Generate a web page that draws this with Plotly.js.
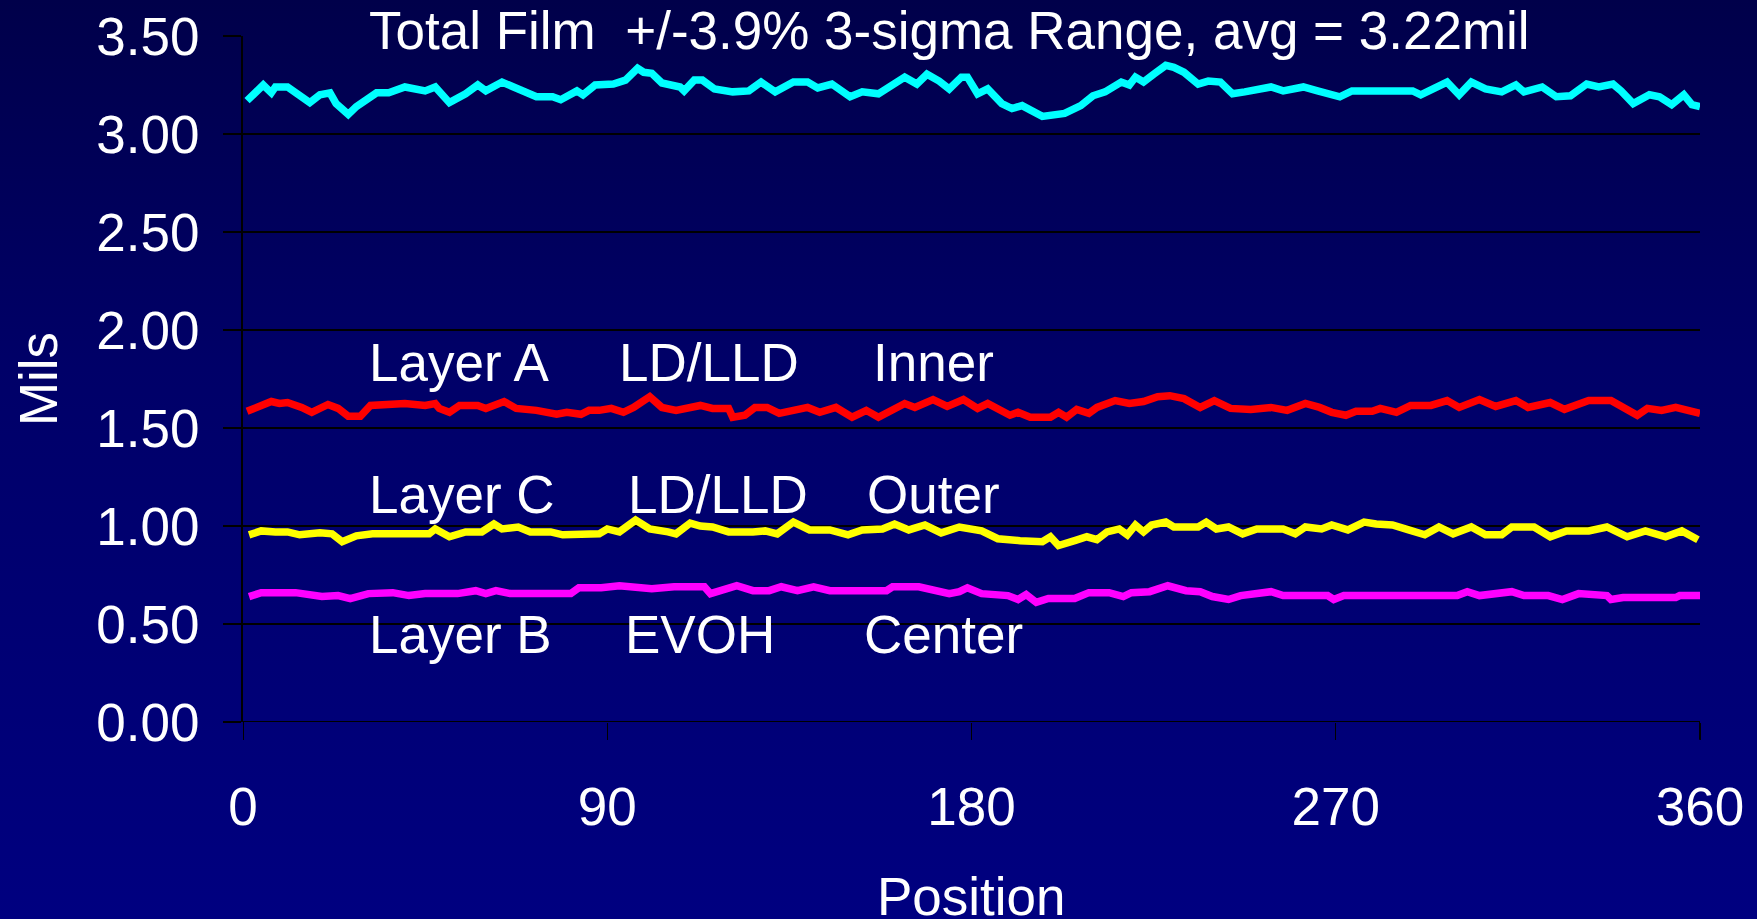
<!DOCTYPE html>
<html>
<head>
<meta charset="utf-8">
<script src="https://cdn.plot.ly/plotly-3.0.1.min.js"></script>
<style>
  html, body { margin: 0; padding: 0; width: 1757px; height: 919px; overflow: hidden;
    background: linear-gradient(to bottom, #00004a 0%, #000068 40%, #000080 100%); }
  #chart { width: 1757px; height: 919px; }
</style>
</head>
<body>
<div id="chart"></div>
<script>
// Total film thickness (mils) vs position (degrees)
const totalX = [1,5,7,8,11,13,16.5,19,21.5,23,26,28,33,36,40,45,47.5,51,55,58,60,64,69,72.5,76.5,78.5,82.5,84,87,91.5,94.5,97.5,99,101,103.5,108,109,111.5,113.5,116.5,121,125,128,131.5,136,139.5,142,145.5,150,153,157,161,163.5,166.5,169,172,174.5,177.5,179,181.5,184,187.5,190,192.5,195,197.5,203,207,210,213,217,219,220.5,222.5,225,228,230,232.5,236,238.5,241.5,244.5,247.5,251.5,254,257,260,262,265.5,269,271,274,289,291,294.5,297.5,300.5,303.5,307,311,314.5,316.5,321,324.5,328,332,335,338.5,340.5,343.5,347.5,350,353,356,358,360];
const totalY = [3.17,3.25,3.21,3.24,3.24,3.21,3.16,3.20,3.21,3.155,3.10,3.14,3.21,3.21,3.24,3.22,3.24,3.16,3.205,3.25,3.22,3.265,3.225,3.19,3.19,3.175,3.22,3.20,3.25,3.255,3.275,3.335,3.315,3.31,3.26,3.24,3.22,3.275,3.275,3.23,3.215,3.22,3.265,3.215,3.265,3.265,3.235,3.255,3.19,3.215,3.205,3.255,3.29,3.255,3.305,3.27,3.23,3.29,3.29,3.205,3.23,3.155,3.13,3.145,3.12,3.09,3.105,3.145,3.195,3.215,3.265,3.25,3.29,3.265,3.305,3.35,3.34,3.315,3.255,3.27,3.265,3.205,3.215,3.23,3.24,3.22,3.23,3.24,3.22,3.205,3.19,3.22,3.22,3.20,3.23,3.265,3.20,3.265,3.23,3.215,3.25,3.215,3.24,3.19,3.195,3.255,3.24,3.255,3.22,3.155,3.20,3.19,3.15,3.20,3.15,3.14];

// Layer A (LD/LLD, inner)
const layerAX = [1,4.5,7,9,11,14.5,17,21,23.5,26,29,31.5,40,45,47.5,48.5,51,53.5,58,60,64.5,67.5,72.5,77.5,80,83.5,85.5,88,91,94,96.5,100.5,103.5,107,109,113,116,120,121,124,126.5,129.5,132.5,135.5,139.5,142.5,146.5,150.5,154,157,161,163.5,166,170.5,174,178,181.5,184,189.5,191.5,194.5,199.5,201.5,203.5,206,209,211,215.5,219,222.5,226,229,232.5,236.5,240,244,249,254,258,262.5,266,269,272.5,275,279,281,285,288.5,293.5,297.5,300.5,305.5,309.5,314.5,317.5,323,326.5,332.5,338,342,344.5,347,350.5,354,357,360];
const layerAY = [1.585,1.615,1.635,1.625,1.63,1.605,1.58,1.62,1.60,1.56,1.56,1.615,1.625,1.615,1.625,1.60,1.58,1.615,1.615,1.60,1.635,1.60,1.59,1.57,1.58,1.57,1.59,1.59,1.60,1.58,1.605,1.66,1.605,1.59,1.60,1.615,1.60,1.60,1.555,1.565,1.605,1.605,1.575,1.59,1.605,1.58,1.605,1.555,1.59,1.555,1.60,1.625,1.605,1.645,1.61,1.645,1.60,1.625,1.565,1.58,1.555,1.555,1.58,1.555,1.595,1.575,1.605,1.64,1.625,1.635,1.66,1.665,1.65,1.605,1.64,1.60,1.595,1.605,1.59,1.625,1.605,1.58,1.565,1.585,1.585,1.60,1.58,1.615,1.615,1.64,1.605,1.645,1.61,1.64,1.605,1.63,1.595,1.64,1.64,1.60,1.565,1.60,1.59,1.605,1.59,1.575];

// Layer C (LD/LLD, outer)
const layerCX = [1.5,4.5,8,11,14,19,22,24.5,28,32,46,47.5,51,55,59,62,64,68,71,76,79,83,88,90,93,97,100.5,105,107,110.5,113,116,120,126,129,132,136,140,145,149.5,153,158,161,164.5,168.5,172.5,177,182.5,186.5,192,197.5,199.5,201.5,205.5,208.5,211,213.5,216.5,218.5,220.5,222.5,224.5,228,230,236,238,240.5,243.5,247,250.5,257,260,262.5,266.5,269,273,277,280,284,288,292,295.5,299,303.5,307,311,313.5,319,323,327,332.5,337,342,346.5,351.5,355.5,359.5];
const layerCY = [0.955,0.975,0.97,0.97,0.955,0.965,0.96,0.92,0.95,0.96,0.96,0.985,0.945,0.97,0.97,1.01,0.985,0.995,0.97,0.97,0.955,0.96,0.96,0.985,0.97,1.03,0.985,0.97,0.96,1.015,1.00,0.995,0.97,0.97,0.975,0.96,1.02,0.98,0.98,0.955,0.98,0.985,1.01,0.98,1.005,0.965,0.995,0.975,0.935,0.925,0.92,0.945,0.90,0.925,0.945,0.93,0.97,0.985,0.955,1.005,0.97,1.005,1.02,0.995,0.995,1.02,0.985,0.995,0.96,0.985,0.985,0.96,0.995,0.985,1.005,0.98,1.02,1.01,1.005,0.98,0.955,0.995,0.96,0.995,0.955,0.955,0.995,0.995,0.945,0.975,0.975,0.995,0.945,0.975,0.945,0.975,0.93];

// Layer B (EVOH, center)
const layerBX = [1.5,4.5,13,17,19.5,23.5,26.5,31,37,41,45,53,57.5,60,62.5,66,81,83,88.5,93,97,101,106.5,114,115.5,119.5,122,126,130,133,137,141,145,159,160.5,167,170.5,174.5,177,179,182.5,189,191.5,193.5,196,199,205.5,209,214,217.5,219.5,224,228.5,233,236.5,239.5,243.5,246.5,254,257,268,269.5,272,300,302.5,305.5,313.5,316.5,322.5,326,330,337,338,341,354,355,360];
const layerBY = [0.64,0.66,0.66,0.65,0.64,0.645,0.63,0.655,0.66,0.645,0.655,0.655,0.67,0.655,0.67,0.655,0.655,0.685,0.685,0.695,0.685,0.68,0.69,0.69,0.655,0.68,0.695,0.67,0.67,0.69,0.67,0.69,0.67,0.67,0.69,0.69,0.67,0.655,0.665,0.685,0.655,0.645,0.625,0.65,0.61,0.63,0.63,0.66,0.66,0.64,0.66,0.665,0.695,0.67,0.665,0.64,0.625,0.645,0.665,0.645,0.645,0.625,0.645,0.645,0.665,0.645,0.665,0.645,0.645,0.625,0.655,0.645,0.625,0.635,0.635,0.645,0.645];

const xTicks = [0, 90, 180, 270, 360];
const yTicks = [0, 0.5, 1, 1.5, 2, 2.5, 3, 3.5];
const yTickText = ["0.00","0.50","1.00","1.50","2.00","2.50","3.00","3.50"];

const FONT = "'Liberation Sans', Arial, sans-serif";
const FS = 53;

function line(x, y, color) {
  return { x: x, y: y, type: 'scatter', mode: 'lines',
    line: { color: color, width: 7.5 }, hoverinfo: 'skip', cliponaxis: false };
}

const traces = [
  line(totalX, totalY, '#00FFFF'),
  line(layerAX, layerAY, '#FF0000'),
  line(layerCX, layerCY, '#FFFF00'),
  line(layerBX, layerBY, '#FF00FF')
];

function label(text, x, y) {
  return { text: text, x: x, y: y, xref: 'x', yref: 'y', xanchor: 'left', yanchor: 'middle',
    showarrow: false, font: { family: FONT, size: FS, color: '#FFFFFF' } };
}

const annotations = [
  { text: 'Total Film\u00A0\u00A0+/-3.9% 3-sigma Range, avg = 3.22mil', x: 0.0848, y: 1.0073,
    xref: 'paper', yref: 'paper', xanchor: 'left', yanchor: 'middle', showarrow: false,
    font: { family: FONT, size: FS, color: '#FFFFFF' } },
  // x-axis title, placed lower than Plotly's margin-clamped axis title allows
  { text: 'Position', x: 0.5, y: -0.254, xref: 'paper', yref: 'paper',
    xanchor: 'center', yanchor: 'middle', showarrow: false,
    font: { family: FONT, size: FS, color: '#FFFFFF' } },
  label('Layer A', 30.6, 1.832), label('LD/LLD', 92.4, 1.832), label('Inner', 155.1, 1.832),
  label('Layer C', 30.6, 1.162), label('LD/LLD', 94.6, 1.162), label('Outer', 153.6, 1.162),
  label('Layer B', 30.6, 0.444), label('EVOH', 93.8, 0.444), label('Center', 152.9, 0.444)
];

const layout = {
  width: 1757, height: 919,
  margin: { l: 243, r: 57, t: 36, b: 197, pad: 0 },
  paper_bgcolor: 'rgba(0,0,0,0)',
  plot_bgcolor: 'rgba(0,0,0,0)',
  showlegend: false,
  font: { family: FONT, size: FS, color: '#FFFFFF' },
  xaxis: {
    range: [0, 360], tickvals: xTicks, ticktext: xTicks.map(String),
    ticks: 'outside', ticklen: 17, tickwidth: 1, tickcolor: '#000000',
    showline: false, showgrid: false, zeroline: false,
    tickfont: { family: FONT, size: FS, color: '#FFFFFF' },
    ticklabelstandoff: 21,
    automargin: false
  },
  yaxis: {
    range: [0, 3.5], tickvals: yTicks, ticktext: yTickText,
    ticks: 'outside', ticklen: 18, tickwidth: 2, tickcolor: '#000000',
    showline: true, linecolor: '#000000', linewidth: 2,
    showgrid: true, gridcolor: '#000000', gridwidth: 2, zeroline: false,
    tickfont: { family: FONT, size: FS, color: '#FFFFFF' },
    ticklabelstandoff: 13,
    title: { text: 'Mils', font: { family: FONT, size: FS, color: '#FFFFFF' }, standoff: 22 },
    automargin: false
  },
  shapes: [
    { type: 'line', xref: 'paper', yref: 'y', x0: 0, x1: 1, y0: 0, y1: 0, line: { color: '#000000', width: 2 }, layer: 'below' },
    { type: 'line', xref: 'x', yref: 'paper', x0: 0, x1: 0, y0: 0, y1: -0.026, line: { color: '#000000', width: 2 }, layer: 'below' },
    { type: 'line', xref: 'x', yref: 'paper', x0: 360, x1: 360, y0: 0, y1: -0.026, line: { color: '#000000', width: 2 }, layer: 'below' }
  ],
  annotations: annotations
};

Plotly.newPlot('chart', traces, layout, { displayModeBar: false, staticPlot: true });
</script>
</body>
</html>
